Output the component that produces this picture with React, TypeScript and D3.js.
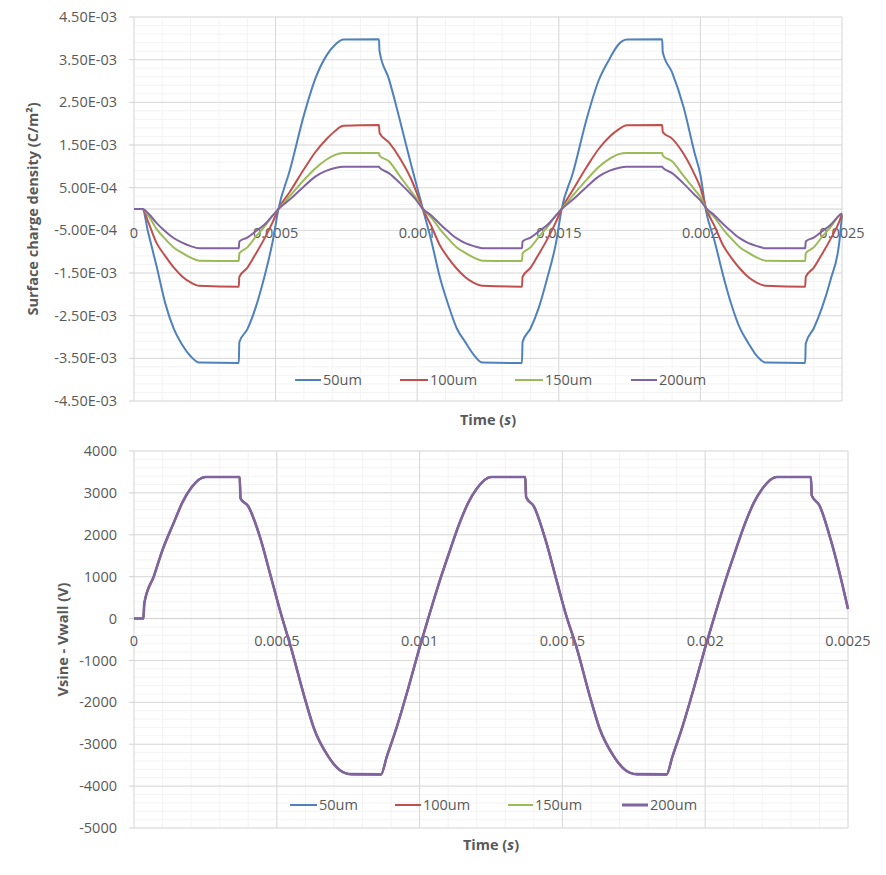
import React from 'react';
import * as d3 from 'd3';

// ---------- DATA ----------
const seriesNames = ['50um', '100um', '150um', '200um'];
const seriesColors = ['#4F81BD', '#C0504D', '#9BBB59', '#8064A2'];

// time in microseconds
const xTickValues = [0, 500, 1000, 1500, 2000, 2500];
const xTickLabels = ['0', '0.0005', '0.001', '0.0015', '0.002', '0.0025'];

// top chart: surface charge density, values in units of 1e-3 C/m²
const topYTicks = [4.5, 3.5, 2.5, 1.5, 0.5, -0.5, -1.5, -2.5, -3.5, -4.5];
const topYLabels = ['4.50E-03', '3.50E-03', '2.50E-03', '1.50E-03', '5.00E-04', '-5.00E-04', '-1.50E-03', '-2.50E-03', '-3.50E-03', '-4.50E-03'];

const topTime = [
  0, 30, 50, 80, 110, 140, 170, 200, 230, 370, 372, 400, 430, 460, 490, 510, 550, 600, 640, 680, 710, 740, 865, 867, 900, 940, 980,
  1000, 1020, 1050, 1080, 1110, 1140, 1170, 1200, 1230, 1370, 1372, 1400, 1430, 1460, 1490, 1510, 1550, 1600, 1640, 1680, 1710, 1740, 1865, 1867, 1900, 1940, 1980,
  2000, 2020, 2050, 2080, 2110, 2140, 2170, 2200, 2230, 2370, 2372, 2400, 2430, 2460, 2490, 2500,
];

const charge50 = [
  0, 0, -0.55, -1.35, -2.2, -2.8, -3.18, -3.45, -3.6, -3.61, -3.12, -2.82, -2.3, -1.6, -0.75, 0, 0.9, 2.2, 3.05, 3.6, 3.85, 3.97, 3.98, 3.7, 3.05, 2.05, 1.0,
  0.5, 0, -0.75, -1.6, -2.25, -2.8, -3.12, -3.42, -3.6, -3.61, -3.12, -2.8, -2.3, -1.6, -0.8, 0, 0.85, 2.15, 3.0, 3.53, 3.85, 3.97, 3.98, 3.68, 3.2, 2.4, 1.3,
  0.8, -0.05, -0.75, -1.55, -2.25, -2.8, -3.15, -3.45, -3.6, -3.61, -3.15, -2.8, -2.3, -1.65, -0.8, -0.15,
];
const charge100 = [
  0, 0, -0.3, -0.8, -1.1, -1.37, -1.58, -1.72, -1.8, -1.82, -1.59, -1.38, -1.05, -0.7, -0.3, 0, 0.4, 0.93, 1.33, 1.64, 1.83, 1.95, 1.97, 1.78, 1.56, 1.18, 0.68,
  0.35, 0, -0.4, -0.85, -1.15, -1.4, -1.6, -1.73, -1.8, -1.82, -1.59, -1.38, -1.05, -0.7, -0.3, 0, 0.45, 1.0, 1.4, 1.7, 1.86, 1.96, 1.97, 1.8, 1.65, 1.3, 0.8,
  0.5, 0.02, -0.4, -0.85, -1.15, -1.4, -1.6, -1.73, -1.8, -1.82, -1.59, -1.38, -1.05, -0.7, -0.3, -0.12,
];
const charge150 = [
  0, 0, -0.15, -0.47, -0.7, -0.9, -1.03, -1.14, -1.21, -1.22, -1.04, -0.9, -0.65, -0.42, -0.15, 0, 0.3, 0.68, 0.95, 1.16, 1.27, 1.31, 1.31, 1.25, 1.12, 0.76, 0.4,
  0.22, 0, -0.2, -0.47, -0.7, -0.9, -1.03, -1.14, -1.21, -1.22, -1.04, -0.9, -0.65, -0.42, -0.15, 0, 0.32, 0.7, 0.98, 1.18, 1.28, 1.31, 1.31, 1.25, 1.12, 0.78, 0.45,
  0.28, 0.02, -0.2, -0.47, -0.7, -0.9, -1.03, -1.14, -1.21, -1.22, -1.04, -0.9, -0.65, -0.42, -0.15, -0.1,
];
const charge200 = [
  0, 0, -0.1, -0.33, -0.52, -0.68, -0.79, -0.87, -0.92, -0.92, -0.76, -0.67, -0.52, -0.37, -0.15, 0, 0.22, 0.53, 0.76, 0.9, 0.96, 0.99, 0.99, 0.97, 0.84, 0.6, 0.33,
  0.18, 0, -0.15, -0.35, -0.53, -0.69, -0.8, -0.87, -0.92, -0.92, -0.76, -0.67, -0.52, -0.37, -0.15, 0, 0.22, 0.53, 0.76, 0.9, 0.96, 0.99, 0.99, 0.97, 0.84, 0.6, 0.33,
  0.2, 0.02, -0.15, -0.35, -0.53, -0.69, -0.8, -0.87, -0.92, -0.92, -0.76, -0.67, -0.52, -0.37, -0.15, -0.1,
];

// bottom chart: Vsine - Vwall (V)
const bottomYTicks = [4000, 3000, 2000, 1000, 0, -1000, -2000, -3000, -4000, -5000];
const bottomYLabels = ['4000', '3000', '2000', '1000', '0', '-1000', '-2000', '-3000', '-4000', '-5000'];

const bottomTime = [
  0, 33, 36, 70, 100, 140, 170, 200, 250, 370, 373, 400, 440, 480, 511, 550, 600, 630, 680, 720, 760, 865, 885, 920, 960, 1000,
  1030, 1070, 1100, 1140, 1170, 1200, 1250, 1370, 1373, 1400, 1440, 1480, 1510, 1550, 1600, 1630, 1680, 1720, 1760, 1865, 1885, 1920, 1960, 2000,
  2030, 2070, 2100, 2140, 2170, 2200, 2250, 2370, 2373, 2400, 2440, 2480, 2500,
];
const vgapCommon = [
  0, 0, 360, 1020, 1640, 2300, 2780, 3120, 3380, 3380, 2870, 2680, 1970, 980, 200, -700, -1950, -2620, -3290, -3615, -3715, -3720, -3300, -2590, -1670, -690,
  0, 890, 1500, 2280, 2760, 3100, 3380, 3380, 2900, 2680, 1900, 900, 150, -700, -1950, -2620, -3290, -3615, -3715, -3720, -3300, -2590, -1670, -690,
  0, 890, 1500, 2280, 2760, 3100, 3380, 3380, 2940, 2700, 1870, 820, 230,
];
const vgap50 = vgapCommon;
const vgap100 = vgapCommon;
const vgap150 = vgapCommon;
const vgap200 = vgapCommon;

// ---------- STYLE ----------
const FONT = "'Open Sans', 'Noto Sans', sans-serif";
const TXT = '#595959';
const GRID = '#d9d9d9';
const MINOR = '#f3f3f3';

type Series = { name: string; color: string; t: number[]; v: number[]; width: number };

type PanelProps = {
  left: number; right: number; top: number; bottom: number;
  yDomain: [number, number];
  yTicks: number[]; yLabels: string[];
  minorYStep: number;
  series: Series[];
  xLabelY: number;
  yTitle: React.ReactNode; yTitleX: number;
  xTitleY: number;
  legendY: number;
  legendLines: [number, number][];
  legendWidths: number[];
};

function Panel(p: PanelProps) {
  const x = d3.scaleLinear().domain([0, 2500]).range([p.left, p.right]);
  const y = d3.scaleLinear().domain(p.yDomain).range([p.bottom, p.top]);
  const line = d3.line<[number, number]>()
    .x(d => x(d[0]))
    .y(d => y(d[1]))
    .curve(d3.curveMonotoneX);
  const minorX = d3.range(0, 2501, 100);
  const minorY = d3.range(p.yDomain[0], p.yDomain[1] + 1e-9, p.minorYStep);
  const cx = (p.left + p.right) / 2;
  const cy = (p.top + p.bottom) / 2;
  return (
    <g>
      {minorX.map((t, i) => (
        <line key={'mx' + i} x1={x(t)} x2={x(t)} y1={p.top} y2={p.bottom} stroke={MINOR} strokeWidth={1} />
      ))}
      {minorY.map((v, i) => (
        <line key={'my' + i} x1={p.left} x2={p.right} y1={y(v)} y2={y(v)} stroke={MINOR} strokeWidth={1} />
      ))}
      {p.yTicks.map((v, i) => (
        <line key={'gy' + i} x1={p.left} x2={p.right} y1={y(v)} y2={y(v)} stroke={GRID} strokeWidth={1} />
      ))}
      {xTickValues.map((t, i) => (
        <line key={'gx' + i} x1={x(t)} x2={x(t)} y1={p.top} y2={p.bottom} stroke={GRID} strokeWidth={1} />
      ))}
      {/* horizontal axis at zero */}
      <line x1={p.left} x2={p.right} y1={y(0)} y2={y(0)} stroke="#d0d0d0" strokeWidth={1} />
      {/* y tick marks */}
      {p.yTicks.map((v, i) => (
        <line key={'ty' + i} x1={p.left - 5} x2={p.left} y1={y(v)} y2={y(v)} stroke="#d0d0d0" strokeWidth={1} />
      ))}
      {p.yTicks.map((v, i) => (
        <text key={'ly' + i} x={p.left - 17} y={y(v)} dy="0.35em" textAnchor="end" fontSize={14.5} fill={TXT} fontFamily={FONT}>
          {p.yLabels[i]}
        </text>
      ))}
      {xTickValues.map((t, i) => (
        <text key={'lx' + i} x={x(t)} y={p.xLabelY} dy="0.35em" textAnchor="middle" fontSize={14.5} fill={TXT} fontFamily={FONT}>
          {xTickLabels[i]}
        </text>
      ))}
      {p.series.map((s, i) => (
        <path key={'s' + i} d={line(s.t.map((t, j) => [t, s.v[j]] as [number, number])) || ''} fill="none" stroke={s.color} strokeWidth={s.width} strokeLinejoin="round" />
      ))}
      {/* legend */}
      {p.series.map((s, i) => (
        <g key={'lg' + i}>
          <line x1={p.legendLines[i][0]} x2={p.legendLines[i][1]} y1={p.legendY} y2={p.legendY} stroke={s.color} strokeWidth={p.legendWidths[i]} />
          <text x={p.legendLines[i][1] + 2} y={p.legendY} dy="0.35em" fontSize={14.5} fill={TXT} fontFamily={FONT}>{s.name}</text>
        </g>
      ))}
      {/* titles */}
      <text x={cx} y={p.xTitleY} dy="0.35em" textAnchor="middle" fontSize={14.5} fontWeight="bold" fill={TXT} fontFamily={FONT}>
        Time (<tspan fontStyle="italic">s</tspan>)
      </text>
      <text transform={`translate(${p.yTitleX},${cy}) rotate(-90)`} dy="0.35em" textAnchor="middle" fontSize={14.5} fontWeight="bold" fill={TXT} fontFamily={FONT}>
        {p.yTitle}
      </text>
    </g>
  );
}

export default function App() {
  const topSeries: Series[] = [charge50, charge100, charge150, charge200].map((v, i) => ({
    name: seriesNames[i], color: seriesColors[i], t: topTime, v, width: 2,
  }));
  const bottomSeries: Series[] = [vgap50, vgap100, vgap150, vgap200].map((v, i) => ({
    name: seriesNames[i], color: seriesColors[i], t: bottomTime, v, width: i === 3 ? 2.6 : 2,
  }));
  return (
    <svg width={886} height={875} style={{ position: 'absolute', left: 0, top: 0, background: '#fff' }}>
      <rect x={0} y={0} width={886} height={875} fill="#fff" />
      <Panel
        left={134} right={842} top={17} bottom={401}
        yDomain={[-4.5, 4.5]} yTicks={topYTicks} yLabels={topYLabels} minorYStep={0.2}
        series={topSeries}
        xLabelY={233}
        yTitle={'Surface charge density (C/m²)'} yTitleX={33}
        xTitleY={420}
        legendY={380}
        legendLines={[[295, 321], [400, 428], [515, 543], [631, 657]]}
        legendWidths={[2, 2, 2, 2]}
      />
      <Panel
        left={134} right={848} top={451} bottom={828}
        yDomain={[-5000, 4000]} yTicks={bottomYTicks} yLabels={bottomYLabels} minorYStep={200}
        series={bottomSeries}
        xLabelY={641}
        yTitle={'Vsine - Vwall (V)'} yTitleX={63}
        xTitleY={845}
        legendY={805}
        legendLines={[[290, 317], [395, 421], [508, 533], [622, 648]]}
        legendWidths={[2, 2, 2, 3]}
      />
    </svg>
  );
}
